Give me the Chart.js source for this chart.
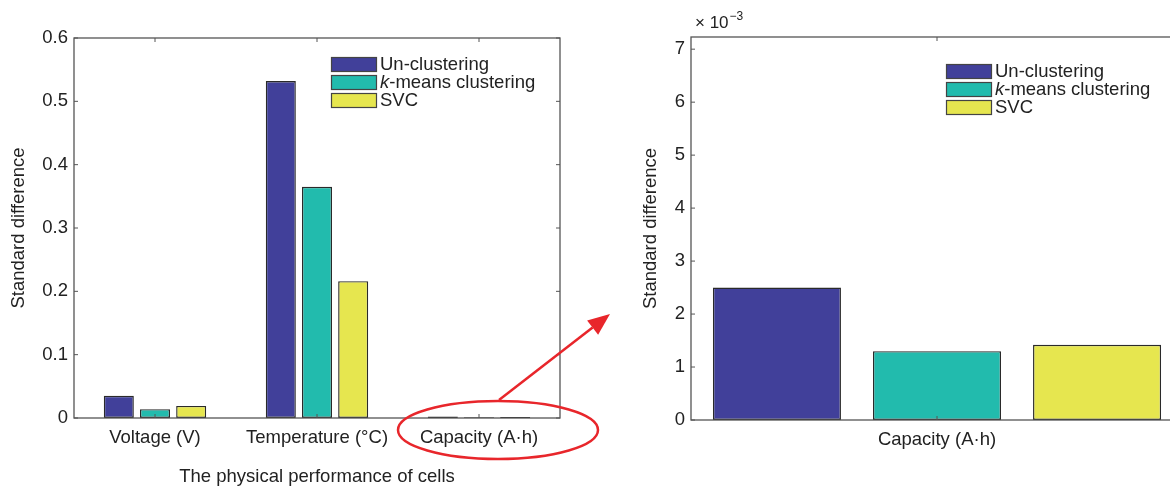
<!DOCTYPE html>
<html>
<head>
<meta charset="utf-8">
<script src="https://cdn.jsdelivr.net/npm/chart.js@4.4.0/dist/chart.umd.min.js"></script>
<style>
  html, body { margin: 0; padding: 0; background: #fff; overflow: hidden; }
  body { width: 1170px; height: 487px; position: relative; }
  .box { position: absolute; top: 0; height: 487px; }
  #leftBox { left: 0; width: 620px; }
  #rightBox { left: 620px; width: 580px; }
  #overlay { position: absolute; left: 0; top: 0; pointer-events: none; }
</style>
</head>
<body>
<div class="box" id="leftBox"><canvas id="leftChart" width="620" height="487"></canvas></div>
<div class="box" id="rightBox"><canvas id="rightChart" width="580" height="487"></canvas></div>
<canvas id="overlay" width="1170" height="487"></canvas>
<script>
// data
const categories = ['Voltage (V)', 'Temperature (°C)', 'Capacity (A·h)'];
const seriesNames = ['Un-clustering', 'k-means clustering', 'SVC'];
const unClustering = [0.035, 0.532, 0.0025];
const kMeans = [0.014, 0.365, 0.0013];
const svc = [0.019, 0.216, 0.00142];
const leftTicks = [0, 0.1, 0.2, 0.3, 0.4, 0.5, 0.6];
const rightTicks = [0, 1, 2, 3, 4, 5, 6, 7]; // x 10^-3

const colors = ['#41409a', '#22bbad', '#e6e64f'];
const FONT = "'Liberation Sans', Arial, sans-serif";
const TEXT = '#222';
const AXIS = '#555';

// matlab style box with inward ticks + legend inside the axes
const boxPlugin = {
    id: 'matlabBox',
    afterDatasetsDraw(chart, args, opts) {
        const ctx = chart.ctx;
        const a = chart.chartArea;
        const xs = chart.scales.x, ys = chart.scales.y;
        ctx.save();
        ctx.strokeStyle = AXIS;
        ctx.lineWidth = 1.3;
        ctx.strokeRect(a.left, a.top, a.right - a.left, a.bottom - a.top);
        ctx.lineWidth = 1;
        const tl = 4;
        xs.ticks.forEach((t, i) => {
            const x = xs.getPixelForTick(i);
            ctx.beginPath();
            ctx.moveTo(x, a.bottom); ctx.lineTo(x, a.bottom - tl);
            ctx.moveTo(x, a.top); ctx.lineTo(x, a.top + tl);
            ctx.stroke();
        });
        ys.ticks.forEach((t, i) => {
            const y = ys.getPixelForTick(i);
            ctx.beginPath();
            ctx.moveTo(a.left, y); ctx.lineTo(a.left + tl, y);
            ctx.moveTo(a.right, y); ctx.lineTo(a.right - tl, y);
            ctx.stroke();
        });

        // legend
        const lx = a.left + opts.legendX, ly = a.top + opts.legendY;
        ctx.textBaseline = 'middle';
        chart.data.datasets.forEach((ds, i) => {
            const y = ly + i * 18;
            ctx.fillStyle = ds.backgroundColor;
            ctx.fillRect(lx, y - 7, 45, 14);
            ctx.strokeStyle = '#444';
            ctx.lineWidth = 1.2;
            ctx.strokeRect(lx + 0.5, y - 6.5, 45, 14);
            ctx.fillStyle = TEXT;
            let tx = lx + 49;
            let label = ds.label;
            if (label.startsWith('k-')) {
                ctx.font = 'italic 18.5px ' + FONT;
                ctx.fillText('k', tx, y + 1);
                tx += ctx.measureText('k').width;
                label = label.slice(1);
            }
            ctx.font = '18.5px ' + FONT;
            ctx.fillText(label, tx, y + 1);
        });

        if (opts.exponent) {
            ctx.fillStyle = TEXT;
            ctx.textBaseline = 'alphabetic';
            ctx.font = '17px ' + FONT;
            const ex = a.left + 4, ey = a.top - 9;
            ctx.fillText('× 10', ex, ey);
            const w = ctx.measureText('× 10').width;
            ctx.font = '12px ' + FONT;
            ctx.fillText('−3', ex + w + 1, ey - 8);
        }
        ctx.restore();
    }
};

function makeDatasets(vals) {
    return vals.map((v, i) => ({
        label: seriesNames[i],
        data: v,
        backgroundColor: colors[i],
        borderColor: '#2a2a2a',
        borderWidth: 1.4,
        borderSkipped: false
    }));
}

function makeChart(id, cfg) {
    return new Chart(document.getElementById(id), {
        type: 'bar',
        data: { labels: cfg.labels, datasets: makeDatasets(cfg.values) },
        options: {
            responsive: false,
            animation: false,
            events: [],
            layout: { padding: cfg.padding },
            datasets: {
                bar: { categoryPercentage: cfg.catPct, barPercentage: cfg.barPct }
            },
            plugins: {
                legend: { display: false },
                tooltip: { enabled: false },
                matlabBox: { legendX: cfg.legendX, legendY: cfg.legendY, exponent: cfg.exponent }
            },
            scales: {
                x: {
                    grid: { display: false, drawTicks: false },
                    border: { display: false },
                    ticks: { color: TEXT, font: { family: FONT, size: 18.5 }, padding: 9, maxRotation: 0 },
                    title: {
                        display: !!cfg.xTitle, text: cfg.xTitle || '', color: TEXT,
                        font: { family: FONT, size: 18.5 }, padding: { top: 0, bottom: -1 }
                    },
                    afterFit: s => { s.height = cfg.xHeight; }
                },
                y: {
                    min: 0, max: cfg.yMax,
                    grid: { display: false, drawTicks: false },
                    border: { display: false },
                    afterBuildTicks: s => { s.ticks = cfg.yTicks.map(v => ({ value: v * cfg.yScale })); },
                    ticks: {
                        color: TEXT, font: { family: FONT, size: 18.5 }, padding: 6,
                        callback: v => String(Math.round(v / cfg.yScale * 10) / 10)
                    },
                    title: {
                        display: true, text: 'Standard difference', color: TEXT,
                        font: { family: FONT, size: 18.5 }, padding: { top: cfg.yTitlePad, bottom: 0 }
                    },
                    afterFit: s => { s.width = cfg.yWidth; }
                }
            }
        },
        plugins: [boxPlugin]
    });
}

const left = makeChart('leftChart', {
    labels: categories,
    values: [unClustering, kMeans, svc],
    padding: { top: 38, right: 60, left: 0, bottom: 0 },
    catPct: 0.67, barPct: 0.83,
    xTitle: 'The physical performance of cells',
    xHeight: 69, yWidth: 74, yTitlePad: 8,
    yMax: 0.6, yTicks: leftTicks, yScale: 1,
    legendX: 257, legendY: 26
});

// zoomed view of the capacity group
const capIdx = categories.indexOf('Capacity (A·h)');
const right = makeChart('rightChart', {
    labels: [categories[capIdx]],
    values: [[unClustering[capIdx]], [kMeans[capIdx]], [svc[capIdx]]],
    padding: { top: 37, right: 17, left: 0, bottom: 0 },
    catPct: 0.976, barPct: 0.8,
    xTitle: '',
    xHeight: 67, yWidth: 71, yTitlePad: 20,
    yMax: 0.00723, yTicks: rightTicks, yScale: 0.001,
    legendX: 255, legendY: 34,
    exponent: true
});

// red ellipse + arrow linking the two panels
(function drawOverlay() {
    const ctx = document.getElementById('overlay').getContext('2d');
    const la = left.chartArea;
    const cx = left.scales.x.getPixelForValue(capIdx) + 19;
    const cy = la.bottom + 12;
    ctx.strokeStyle = '#e8262b';
    ctx.fillStyle = '#e8262b';
    ctx.lineWidth = 2.5;
    ctx.beginPath();
    ctx.ellipse(cx, cy, 100, 29, 0, 0, Math.PI * 2);
    ctx.stroke();

    const x0 = cx + 1, y0 = cy - 30;
    const x1 = 620 + right.chartArea.left - 81;
    const y1 = right.scales.y.getPixelForValue(0.002);
    const ang = Math.atan2(y1 - y0, x1 - x0);
    const hl = 22, hw = 9;
    const bx = x1 - hl * Math.cos(ang), by = y1 - hl * Math.sin(ang);
    ctx.beginPath();
    ctx.moveTo(x0, y0);
    ctx.lineTo(bx, by);
    ctx.stroke();
    ctx.beginPath();
    ctx.moveTo(x1, y1);
    ctx.lineTo(bx + hw * Math.sin(ang), by - hw * Math.cos(ang));
    ctx.lineTo(bx - hw * Math.sin(ang), by + hw * Math.cos(ang));
    ctx.closePath();
    ctx.fill();
})();
</script>
</body>
</html>
